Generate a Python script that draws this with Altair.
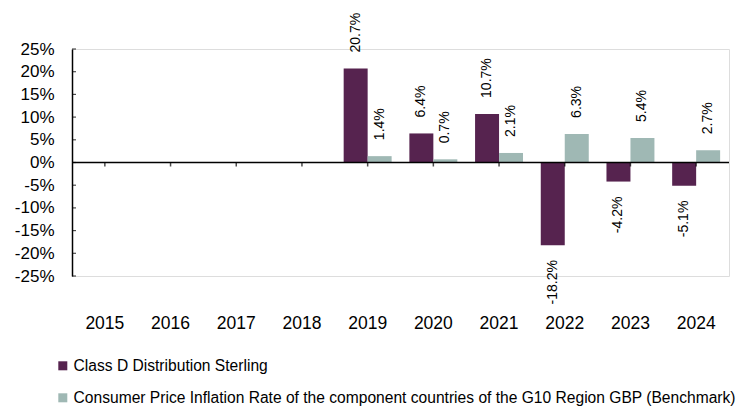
import altair as alt
import pandas as pd

years = ["2015", "2016", "2017", "2018", "2019", "2020", "2021", "2022", "2023", "2024"]
series_names = [
    "Class D Distribution Sterling",
    "Consumer Price Inflation Rate of the component countries of the G10 Region GBP (Benchmark)",
]
class_d = [None, None, None, None, 20.7, 6.4, 10.7, -18.2, -4.2, -5.1]
benchmark = [None, None, None, None, 1.4, 0.7, 2.1, 6.3, 5.4, 2.7]
y_ticks = [-25, -20, -15, -10, -5, 0, 5, 10, 15, 20, 25]
colors = ["#56234F", "#9FB8B4"]

FONT = "Liberation Sans"

rows = []
for s, vals in zip(series_names, [class_d, benchmark]):
    for yr, v in zip(years, vals):
        if v is not None:
            rows.append({"year": yr, "series": s, "value": v, "label": f"{v:.1f}%"})
df = pd.DataFrame(rows)

x_scale = alt.Scale(domain=years, paddingInner=0.27, paddingOuter=0.135)
y_scale = alt.Scale(domain=[-25, 25], nice=False, zero=False)
off_scale = alt.Scale(domain=series_names, paddingInner=0, paddingOuter=0)

x_axis = alt.Axis(
    title=None, domain=False, ticks=False, labelAngle=0, labelPadding=38,
    labelFontSize=17.5, labelColor="#000", labelFont=FONT,
)
y_axis = alt.Axis(
    values=y_ticks, title=None, labelExpr="datum.value + '%'", grid=False,
    ticks=False, domainColor="#000", domainWidth=1.5, labelPadding=18,
    labelFontSize=17, labelColor="#000", labelFont=FONT, labelOverlap=False,
    labelBound=False,
)
x_enc = alt.X("year:N", scale=x_scale, axis=x_axis, title=None)
y_enc = alt.Y("value:Q", scale=y_scale, axis=y_axis, title=None)
xo_enc = alt.XOffset("series:N", scale=off_scale)

bars = alt.Chart(df).mark_bar().encode(
    x=x_enc,
    xOffset=xo_enc,
    y=y_enc,
    color=alt.Color(
        "series:N",
        scale=alt.Scale(domain=series_names, range=colors),
        legend=alt.Legend(
            title=None, orient="none", legendX=-17, legendY=309, direction="vertical",
            symbolType="square", symbolSize=81, symbolStrokeWidth=0,
            labelFontSize=15.6, labelFont=FONT, labelColor="#000",
            rowPadding=15, labelOffset=3, labelLimit=0,
        ),
    ),
)

pos_labels = alt.Chart(df).transform_filter("datum.value >= 0").mark_text(
    angle=270, align="left", baseline="middle", dx=16, fontSize=14, font=FONT, color="#000"
).encode(x=x_enc, xOffset=xo_enc, y=y_enc, text="label:N")
neg_labels = alt.Chart(df).transform_filter("datum.value < 0").mark_text(
    angle=270, align="right", baseline="middle", dx=-15, fontSize=14, font=FONT, color="#000"
).encode(x=x_enc, xOffset=xo_enc, y=y_enc, text="label:N")

zero_df = pd.DataFrame({"value": [0]})
zero_rule = alt.Chart(zero_df).mark_rule(color="#000", strokeWidth=1.5).encode(y=y_enc)

xt_df = pd.DataFrame({"year": years, "value": [0] * len(years)})
x_ticks = alt.Chart(xt_df).mark_tick(
    orient="vertical", size=4, thickness=1.5, yOffset=2, color="#000"
).encode(x=x_enc, y=y_enc)

yt_df = pd.DataFrame({"value": y_ticks})
y_tick_marks = alt.Chart(yt_df).mark_tick(
    orient="horizontal", size=4, thickness=1.2, xOffset=2, color="#000"
).encode(y=y_enc, x=alt.value(0))

chart = alt.layer(bars, zero_rule, x_ticks, y_tick_marks, pos_labels, neg_labels).properties(
    width=657,
    height=227,
    autosize="none",
    padding={"left": 64, "top": 41, "right": 12, "bottom": 130},
    background="white",
).configure_view(stroke=None).configure(font=FONT)

chart.save("out.html", embed_options={"renderer": "svg", "actions": False})
